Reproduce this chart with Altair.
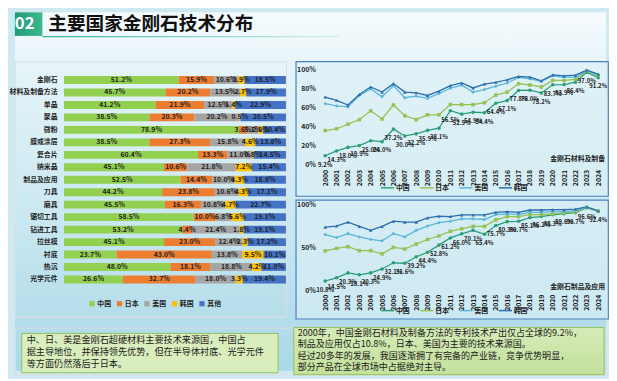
import altair as alt
import pandas as pd

FONT = "Noto Sans CJK SC"
SECTION = "02"
TITLE = "主要国家金刚石技术分布"

# ---------------- stacked bar data ----------------
categories = ["金刚石", "材料及制备方法", "单晶", "聚晶", "微粉", "膜或涂层", "复合片", "纳米晶",
              "制品及应用", "刀具", "磨具", "锯切工具", "钻进工具", "拉丝模", "衬底", "热沉", "光学元件"]
countries = ["中国", "日本", "美国", "韩国", "其他"]
share_china = [51.2, 45.7, 41.2, 38.5, 78.9, 38.5, 60.4, 45.1, 52.5, 44.2, 45.5, 58.5, 53.2, 45.1, 23.7, 48.0, 26.6]
share_japan = [15.9, 20.2, 21.9, 20.3, 3.6, 27.3, 13.3, 10.6, 14.4, 23.8, 16.3, 10.0, 4.4, 23.0, 43.0, 18.1, 32.7]
share_usa = [10.6, 13.5, 12.5, 20.2, 5.1, 15.8, 11.0, 21.8, 10.0, 10.6, 10.8, 6.8, 21.4, 12.4, 13.8, 18.8, 18.0]
share_korea = [2.9, 2.7, 1.4, 0.5, 2.0, 4.6, 0.8, 7.2, 4.3, 4.3, 4.7, 5.6, 1.8, 2.3, 9.5, 4.2, 3.3]
share_other = [18.5, 17.9, 22.9, 20.5, 10.4, 13.8, 14.5, 15.4, 18.8, 17.1, 22.7, 19.1, 19.1, 17.2, 10.1, 11.0, 19.4]
bar_colors = ["#92d050", "#ed7d31", "#a5a5a5", "#ffc000", "#4472c4"]

# ---------------- line chart data (cumulative share, %) ----------------
years = list(range(2000, 2025))
line_countries = ["中国", "日本", "美国", "韩国"]
line_colors = ["#2a9d78", "#93c352", "#5ab6d8", "#2c6db0"]
line_shapes = ["circle", "square", "diamond", "triangle-up"]

mat_label = "金刚石材料及制备"
mat_china = [9.2, 14.3, 18.0, 19.9, 25.0, 24.0, 37.2, 30.0, 32.2, 35.9, 38.1, 56.5, 52.9, 54.9, 54.4,
             64.4, 67.1, 77.8, 78.0, 75.2, 83.7, 83.9, 86.4, 97.0, 91.2]
mat_japan = [35.7, 37.5, 42.3, 47.1, 56.4, 47.8, 62.5, 51.2, 47.1, 52.2, 52.2, 62.9, 62.9, 62.9, 64.9,
             72.9, 76.0, 84.9, 83.5, 81.4, 88.3, 88.3, 89.3, 98.6, 93.5]
mat_usa = [63.9, 61.5, 60.5, 72.5, 79.4, 71.1, 82.8, 70.1, 71.8, 69.4, 74.5, 80.1, 83.2, 76.0, 78.7,
           82.2, 85.6, 91.4, 90.0, 87.3, 93.1, 91.8, 91.8, 98.8, 94.2]
mat_korea = [70.8, 67.4, 62.5, 73.5, 81.4, 76.0, 84.9, 76.0, 75.3, 72.5, 77.0, 82.8, 85.6, 80.4, 84.5,
             86.3, 89.0, 92.5, 91.8, 87.9, 94.1, 93.1, 93.8, 99.0, 94.8]

prod_label = "金刚石制品及应用"
prod_china = [10.8, 14.5, 20.3, 18.1, 20.3, 24.9, 32.1, 31.6, 39.2, 44.4, 52.8, 61.2, 66.0, 70.1, 65.4,
              75.7, 80.3, 80.7, 85.1, 86.2, 88.3, 89.6, 90.7, 96.6, 92.4]
prod_japan = [46.0, 49.0, 50.9, 46.3, 46.3, 42.5, 50.2, 48.3, 54.0, 59.4, 63.6, 69.0, 72.0, 74.7, 74.7,
              82.4, 86.2, 86.2, 88.5, 88.5, 89.3, 90.5, 92.0, 97.0, 92.6]
prod_usa = [65.1, 61.7, 66.3, 62.4, 59.4, 57.8, 66.3, 62.4, 70.1, 75.1, 79.0, 80.8, 83.5, 83.5, 82.8,
            88.5, 89.3, 88.5, 91.2, 91.2, 92.0, 92.0, 93.1, 97.3, 92.8]
prod_korea = [73.9, 75.1, 79.7, 74.7, 70.1, 74.7, 80.8, 79.7, 79.7, 84.7, 86.6, 86.2, 88.1, 88.1, 88.1,
              91.2, 92.0, 91.2, 93.9, 93.9, 94.3, 94.3, 95.0, 97.6, 93.0]

# ---------------- text boxes ----------------
left_text = ["　　中、日、美是金刚石超硬材料主要技术来源国，中国占",
             "据主导地位，并保持领先优势，但在半导体衬底、光学元件",
             "等方面仍然落后于日本。"]
right_text = ["　　2000年，中国金刚石材料及制备方法的专利技术产出仅占全球的9.2%，",
              "制品及应用仅占10.8%，日本、美国为主要的技术来源国。",
              "　　经过20多年的发展，我国逐渐拥了有完备的产业链，竞争优势明显，",
              "部分产品在全球市场中占据绝对主导。"]

BG = "#cfe9f2"
INK = "#1f1f1f"
TOTAL_W = 602
TOTAL_H = 365

# ================= header (also carries the page background) =================
hdr = alt.Chart(pd.DataFrame({"num": [SECTION], "title": [TITLE]}))
page_bg = hdr.mark_rect(color=alt.LinearGradient(
    gradient="linear", x1=0, x2=0, y1=0, y2=1,
    stops=[alt.GradientStop(color="#f6fbfd", offset=0),
           alt.GradientStop(color="#e3f3f8", offset=0.18),
           alt.GradientStop(color="#c8e7f0", offset=0.6),
           alt.GradientStop(color="#a9d8e7", offset=1)]
)).encode(x=alt.value(0), x2=alt.value(TOTAL_W), y=alt.value(0), y2=alt.value(TOTAL_H))
tab = hdr.mark_rect(color=alt.LinearGradient(
    gradient="linear", x1=0, x2=1, y1=0, y2=0,
    stops=[alt.GradientStop(color="#1f9c78", offset=0), alt.GradientStop(color="#3cb98e", offset=1)]
)).encode(x=alt.value(0), x2=alt.value(28), y=alt.value(0), y2=alt.value(24))
num = hdr.mark_text(font=FONT, fontSize=17, fontWeight="bold", color="white").encode(
    x=alt.value(10), y=alt.value(12), text="num:N")
title = hdr.mark_text(font=FONT, fontSize=19, fontWeight="bold", color="#111111", align="left").encode(
    x=alt.value(34), y=alt.value(12), text="title:N")
underline = hdr.mark_rect(color=alt.LinearGradient(
    gradient="linear", x1=0, x2=1, y1=0, y2=0,
    stops=[alt.GradientStop(color="#35b39c", offset=0), alt.GradientStop(color="#d6efec", offset=1)]
)).encode(x=alt.value(28), x2=alt.value(330), y=alt.value(24), y2=alt.value(25.5))
header = alt.layer(page_bg, tab, underline, num, title).properties(width=601, height=26)

# ================= stacked bars =================
rows = []
shares = [share_china, share_japan, share_usa, share_korea, share_other]
for ci, cat in enumerate(categories):
    for k, (name, vals) in enumerate(zip(countries, shares)):
        rows.append({"category": cat, "country": name, "order": k, "value": vals[ci]})
bar_df = pd.DataFrame(rows)

bar_base = alt.Chart(bar_df).transform_stack(
    stack="value", groupby=["category"], as_=["v0", "v1"],
    sort=[alt.SortField(field="order", order="ascending")], offset="normalize",
).transform_calculate(
    mid="(datum.v0 + datum.v1) / 2",
    label="format(datum.value, '.1f') + '%'",
)
bar_y = alt.Y("category:N", sort=categories, title=None,
              scale=alt.Scale(range=[12.6, 228.4], paddingInner=0.37, paddingOuter=0.185),
              axis=alt.Axis(ticks=False, domain=False, labelFontSize=7, labelFontWeight="bold",
                            labelColor=INK, labelPadding=3, labelFont=FONT, offset=-46))
bar_xs = alt.Scale(domain=[0, 1], range=[50, 276], nice=False)
bars = bar_base.mark_bar().encode(
    x=alt.X("v0:Q", scale=bar_xs, axis=None),
    x2="v1:Q",
    y=bar_y,
    color=alt.Color("country:N", sort=countries,
                    scale=alt.Scale(domain=countries, range=bar_colors),
                    legend=alt.Legend(title=None, orient="none", legendX=75, legendY=243,
                                      direction="horizontal", symbolType="square", symbolSize=28,
                                      labelFontSize=7, labelFont=FONT, labelFontWeight="bold",
                                      labelColor=INK, columnPadding=5, labelOffset=2)),
)
bar_text = bar_base.mark_text(font=FONT, fontSize=7, fontWeight="bold", color=INK).encode(
    x=alt.X("mid:Q", scale=bar_xs, axis=None), y=bar_y, text="label:N")
bar_chart = alt.layer(bars, bar_text).properties(width=276, height=260)


# ================= line panels =================
def line_panel(series, height, y_top, y_bottom, y_values, x_axis_offset, legend_y, label, label_y):
    recs = []
    for name, vals in zip(line_countries, series):
        for yr, v in zip(years, vals):
            recs.append({"year": yr, "country": name, "v": v})
    df = pd.DataFrame(recs)
    base = alt.Chart(df).transform_calculate(label="format(datum.v, '.1f') + '%'")
    x = alt.X("year:Q", title=None,
              scale=alt.Scale(domain=[2000, 2024], range=[30, 308], nice=False, zero=False),
              axis=alt.Axis(values=years, format="d", labelAngle=270, labelFontSize=7,
                            labelFontWeight="bold", labelFont=FONT, labelColor=INK,
                            ticks=False, domain=False, grid=False, labelOverlap=False,
                            labelPadding=2, offset=x_axis_offset))
    y = alt.Y("v:Q", title=None,
              scale=alt.Scale(domain=[0, 100], range=[y_bottom, y_top], nice=False),
              axis=alt.Axis(values=y_values, labelExpr="datum.value + '%'", labelFontSize=7,
                            labelFontWeight="bold", labelFont=FONT, labelColor=INK,
                            ticks=False, domain=False, grid=False, labelPadding=2, offset=-22))
    color = alt.Color("country:N", sort=line_countries,
                      scale=alt.Scale(domain=line_countries, range=line_colors),
                      legend=alt.Legend(title=None, orient="none", legendX=86, legendY=legend_y,
                                        direction="horizontal", symbolType="stroke",
                                        symbolStrokeWidth=1.5, symbolSize=180,
                                        labelFontSize=7, labelFont=FONT, labelFontWeight="bold",
                                        labelColor=INK, columnPadding=7, labelOffset=1))
    layers = [base.mark_line(strokeWidth=1.3).encode(x=x, y=y, color=color, detail="country:N")]
    for name, col, shp in zip(line_countries, line_colors, line_shapes):
        layers.append(base.transform_filter(alt.datum.country == name).mark_point(
            filled=True, size=13, opacity=1, shape=shp, color=col).encode(x=x, y=y))
    layers.append(base.transform_filter(alt.datum.country == line_countries[0]).mark_text(
        font=FONT, fontSize=6, fontWeight="bold", color=INK, dy=9).encode(
        x=x, y=y, text="label:N"))
    layers.append(alt.Chart(pd.DataFrame({"t": [label]})).mark_text(
        font=FONT, fontSize=7, fontWeight="bold", color=INK, align="right").encode(
        x=alt.value(315), y=alt.value(label_y), text="t:N"))
    return alt.layer(*layers).properties(
        width=318, height=height,
        view=alt.ViewBackground(fill="#dcf0f6", fillOpacity=0.6, stroke="#4a80c4", strokeWidth=1.2))


top_panel = line_panel([mat_china, mat_japan, mat_usa, mat_korea], 137, 8, 105,
                       [0, 20, 40, 60, 80, 100], -29, 121, mat_label, 99)
bottom_panel = line_panel([prod_china, prod_japan, prod_usa, prod_korea], 121, 5, 92,
                          [0, 50, 100], -27, 105, prod_label, 89)
right_col = alt.vconcat(top_panel, bottom_panel, spacing=2).resolve_scale(color="independent")

middle = alt.hconcat(bar_chart, right_col, spacing=8).resolve_scale(color="independent")

# ================= text boxes =================
tb = alt.Chart(pd.DataFrame({"l": ["\n".join(left_text)], "r": ["\n".join(right_text)]}))
lbox = tb.mark_rect(fill="#d9edbd", stroke="#93c25a", strokeWidth=1).encode(
    x=alt.value(7), x2=alt.value(268), y=alt.value(6), y2=alt.value(46))
rbox = tb.mark_rect(color=alt.LinearGradient(
    gradient="linear", x1=0, x2=0, y1=0, y2=1,
    stops=[alt.GradientStop(color="#d6ebb8", offset=0), alt.GradientStop(color="#c3e09c", offset=1)]
), stroke="#93c25a", strokeWidth=1).encode(
    x=alt.value(284), x2=alt.value(600), y=alt.value(0), y2=alt.value(48))
ltxt = tb.mark_text(font=FONT, fontSize=9.3, color="#1a1a1a", align="left", baseline="top",
                    lineBreak="\n", lineHeight=12).encode(x=alt.value(12), y=alt.value(9), text="l:N")
rtxt = tb.mark_text(font=FONT, fontSize=9.2, color="#1a1a1a", align="left", baseline="top",
                    lineBreak="\n", lineHeight=11.3).encode(x=alt.value(288), y=alt.value(2), text="r:N")
bottom = alt.layer(lbox, rbox, ltxt, rtxt).properties(width=601, height=48)

lower = alt.vconcat(middle, bottom, spacing=7).resolve_scale(color="independent")
chart = alt.vconcat(header, lower, spacing=24, bounds="flush").resolve_scale(
    color="independent"
).properties(padding=0, background=BG).configure_view(stroke=None).configure(font=FONT)

chart.save("out.html", embed_options={"renderer": "svg", "actions": False})
